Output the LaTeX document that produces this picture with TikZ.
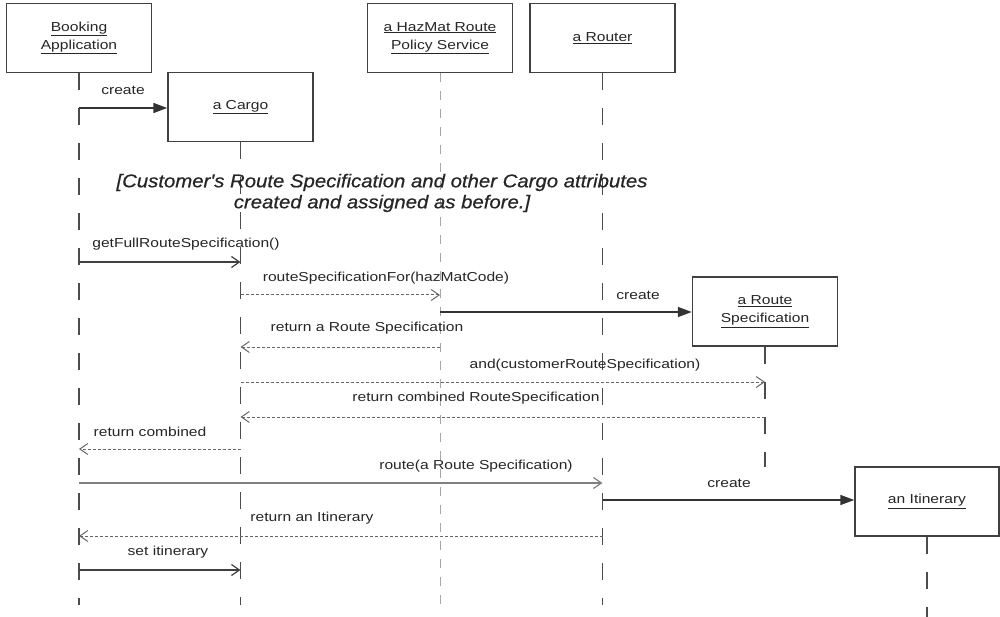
\documentclass[tikz,border=0pt]{standalone}
\usepackage{fontspec}
\setmainfont{Liberation Sans}
\newfontfamily\lbl[FakeStretch=1.2]{Liberation Sans}
\newfontfamily\notef[FakeStretch=1.1,FakeBold=0.6]{Liberation Sans}
\usetikzlibrary{arrows.meta}
\begin{document}
\begin{tikzpicture}[x=1pt,y=-1pt,
 box/.style={draw=black!75,line width=1.5pt,fill=white,minimum width=145pt,minimum height=69pt,align=center,font=\lbl\fontsize{13}{17}\selectfont,inner sep=0pt,text=black!85},
 life/.style={draw=black!70,line width=1.4pt,dash pattern=on 17pt off 18pt},
 lifelight/.style={draw=black!35,line width=1pt,dash pattern=on 9pt off 9pt},
 msg/.style={draw=black!75,line width=1.2pt,-{Straight Barb[length=8pt,width=11pt,line width=1.2pt]}},
 lightmsg/.style={draw=black!50,line width=1.2pt,-{Straight Barb[length=8pt,width=11pt,line width=1.2pt]}},
 cmsg/.style={draw=black!80,line width=1.6pt,-{Triangle[length=14pt,width=10pt]}},
 ret/.style={draw=black!60,line width=1pt,dash pattern=on 3pt off 2pt,-{Straight Barb[length=8pt,width=11pt,line width=1pt,sharp]}},
 lab/.style={font=\lbl\fontsize{13}{15}\selectfont,inner sep=0pt,text=black!85},
 note/.style={font=\notef\itshape\fontsize{18.5}{21}\selectfont,inner sep=0pt,align=center,text=black!85},
]
\useasboundingbox[fill=white] (0,0) rectangle (1000,617);

% objects
\node[box] (ba) at (79,38) {\underline{Booking}\\[1pt]\underline{Application}};
\node[box] (cg) at (240.5,107) {\underline{a Cargo}};
\node[box] (hz) at (440,38) {\underline{a HazMat Route}\\[1pt]\underline{Policy Service}};
\node[box] (rt) at (602.5,38) {\underline{a Router}};
\node[box] (rs) at (765,311.5) {\underline{a Route}\\[1pt]\underline{Specification}};
\node[box, minimum width=144pt] (it) at (927,501.5) {\underline{an Itinerary}};

% levels
\coordinate (bot) at (0,605);
\coordinate (rsend) at (0,467);
\coordinate (itend) at (0,617);
\coordinate (m1) at (0,108);
\coordinate (m2) at (0,262);
\coordinate (m3) at (0,295);
\coordinate (m4) at (0,312);
\coordinate (m5) at (0,347);
\coordinate (m6) at (0,382);
\coordinate (m7) at (0,417);
\coordinate (m8) at (0,449);
\coordinate (m9) at (0,483);
\coordinate (m10) at (0,500);
\coordinate (m11) at (0,536);
\coordinate (m12) at (0,570);

% lifelines
\draw[life] (ba.south) -- (ba.south |- bot);
\draw[life] (cg.south) -- (cg.south |- bot);
\draw[lifelight] (hz.south) -- (hz.south |- bot);
\draw[life] (rt.south) -- (rt.south |- bot);
\draw[life] (rs.south) -- (rs.south |- rsend);
\draw[life] (it.south) -- (it.south |- itend);

% note
\node[note] (nt) at (382,193) {[Customer's Route Specification and other Cargo attributes\\created and assigned as before.]};

% messages
\draw[cmsg] (ba.south |- m1) -- (cg.west |- m1);
\node[lab] (l1) at (123,90) {create};

\draw[msg] (ba.south |- m2) -- (cg.south |- m2);
\node[lab] (l2) at (186,244) {getFullRouteSpecification()};

\draw[ret] (cg.south |- m3) -- (hz.south |- m3);
\node[lab] (l3) at (386,278) {routeSpecificationFor(hazMatCode)};

\draw[cmsg] (hz.south |- m4) -- (rs.west |- m4);
\node[lab] (l4) at (638,295) {create};

\draw[ret] (hz.south |- m5) -- (cg.south |- m5);
\node[lab] (l5) at (367,328) {return a Route Specification};

\draw[ret] (cg.south |- m6) -- (rs.south |- m6);
\node[lab] (l6) at (585,365) {and(customerRouteSpecification)};

\draw[ret] (rs.south |- m7) -- (cg.south |- m7);
\node[lab] (l7) at (476,398) {return combined RouteSpecification};

\draw[ret] (cg.south |- m8) -- (ba.south |- m8);
\node[lab] (l8) at (150,432) {return combined};

\draw[lightmsg] (ba.south |- m9) -- (rt.south |- m9);
\node[lab] (l9) at (476,466) {route(a Route Specification)};

\draw[cmsg] (rt.south |- m10) -- (it.west |- m10);
\node[lab] (l10) at (729,483) {create};

\draw[ret] (rt.south |- m11) -- (ba.south |- m11);
\node[lab] (l11) at (312,518) {return an Itinerary};

\draw[msg] (ba.south |- m12) -- (cg.south |- m12);
\node[lab] (l12) at (168,552) {set itinerary};
\end{tikzpicture}
\end{document}
